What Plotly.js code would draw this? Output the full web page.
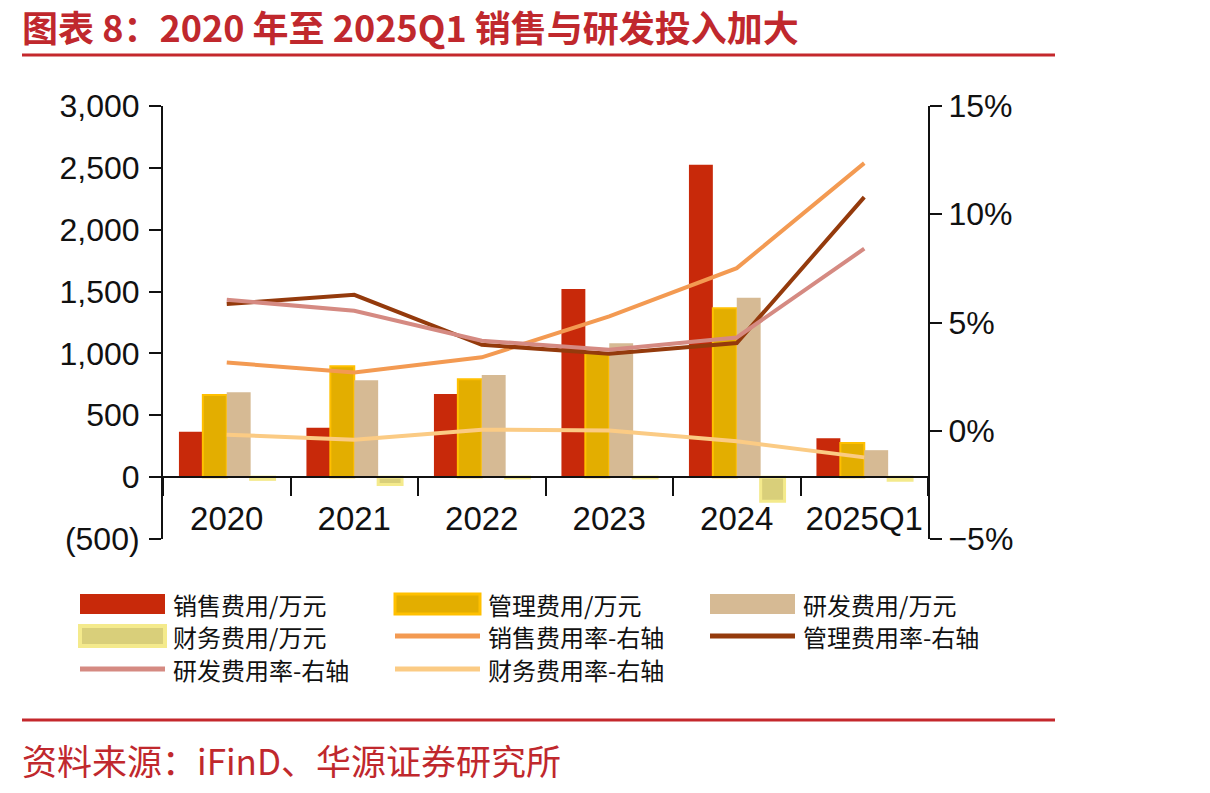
<!DOCTYPE html>
<html>
<head>
<meta charset="utf-8">
<script src="https://cdn.plot.ly/plotly-3.0.1.min.js"></script>
<style>
html,body{margin:0;padding:0;background:#fff;}
#chart{width:1210px;height:793px;}
</style>
</head>
<body>
<div id="chart"></div>
<script>
const categories = ["2020", "2021", "2022", "2023", "2024", "2025Q1"];
const salesExp = [366, 399, 673, 1520, 2525, 315];
const adminExp = [663, 897, 792, 1000, 1366, 275];
const rdExp = [687, 784, 825, 1083, 1450, 218];
const finExp = [-18, -60, -6, -6, -195, -25];
const salesRate = [3.15, 2.69, 3.39, 5.28, 7.51, 12.36];
const adminRate = [5.85, 6.28, 3.97, 3.56, 4.05, 10.79];
const rdRate = [6.05, 5.54, 4.16, 3.74, 4.31, 8.41];
const finRate = [-0.18, -0.42, 0.05, 0.01, -0.49, -1.23];
const leftTickVals = [-500, 0, 500, 1000, 1500, 2000, 2500, 3000];
const leftTickText = ["(500)", "0", "500", "1,000", "1,500", "2,000", "2,500", "3,000"];
const rightTickVals = [-5, 0, 5, 10, 15];
const rightTickText = ["\u22125%", "0%", "5%", "10%", "15%"];
const legendNames = ["销售费用/万元", "管理费用/万元", "研发费用/万元", "财务费用/万元",
  "销售费用率-右轴", "管理费用率-右轴", "研发费用率-右轴", "财务费用率-右轴"];

const C = {
  red: "#C8290A", yellow: "#E3AE00", yellowLine: "#FFC000", tan: "#D6BA94",
  fin: "#D9CF7A", finLine: "#F4EA8C", orange: "#F39A52", brown: "#943A0C",
  pink: "#D58A82", light: "#FBCB84"
};

const traces = [
  {type: "bar", name: legendNames[0], x: categories, y: salesExp, marker: {color: C.red}},
  {type: "bar", name: legendNames[1], x: categories, y: adminExp, marker: {color: C.yellow, line: {color: C.yellowLine, width: 2}}},
  {type: "bar", name: legendNames[2], x: categories, y: rdExp, marker: {color: C.tan}},
  {type: "bar", name: legendNames[3], x: categories, y: finExp, marker: {color: C.fin, line: {color: C.finLine, width: 3}}},
  {type: "scatter", mode: "lines", name: legendNames[4], x: categories, y: salesRate, yaxis: "y2", line: {color: C.orange, width: 4}},
  {type: "scatter", mode: "lines", name: legendNames[5], x: categories, y: adminRate, yaxis: "y2", line: {color: C.brown, width: 4}},
  {type: "scatter", mode: "lines", name: legendNames[6], x: categories, y: rdRate, yaxis: "y2", line: {color: C.pink, width: 4}},
  {type: "scatter", mode: "lines", name: legendNames[7], x: categories, y: finRate, yaxis: "y2", line: {color: C.light, width: 4}}
];

const W = 1210, H = 793;
const ML = 163, MR = 282, MT = 106, MB = 254;
const PW = W - ML - MR, PH = H - MT - MB;
const px = v => (v - ML) / PW, py = v => (H - MB - v) / PH;
const shapes = [
  {type: "line", xref: "paper", yref: "paper", x0: px(22), x1: px(1055), y0: py(55), y1: py(55), line: {color: "#C4282C", width: 3}},
  {type: "line", xref: "paper", yref: "paper", x0: px(22), x1: px(1055), y0: py(720), y1: py(720), line: {color: "#C4282C", width: 3}}
];
const annotations = [
  {xref: "paper", yref: "paper", x: px(20), y: py(26), xanchor: "left", yanchor: "middle", showarrow: false,
   text: "<b>图表 8：2020 年至 2025Q1 销售与研发投入加大</b>", font: {family: "Noto Sans CJK SC", size: 36, color: "#C0282D"}},
  {xref: "paper", yref: "paper", x: px(20), y: py(759), xanchor: "left", yanchor: "middle", showarrow: false,
   text: "资料来源：iFinD、华源证券研究所", font: {family: "Noto Sans CJK SC", size: 35, color: "#C0282D"}}
];
// Legend (custom, 3 columns)
const colX = [80, 395, 710];
const rowY = [604, 636, 669];
const legendStyles = [
  {kind: "rect", fill: C.red},
  {kind: "rect", fill: C.yellow, line: C.yellowLine, lw: 3},
  {kind: "rect", fill: C.tan},
  {kind: "rect", fill: C.fin, line: C.finLine, lw: 4},
  {kind: "line", color: C.orange},
  {kind: "line", color: C.brown},
  {kind: "line", color: C.pink},
  {kind: "line", color: C.light}
];
legendNames.forEach((name, i) => {
  const cx = colX[i % 3], cy = rowY[Math.floor(i / 3)];
  const s = legendStyles[i];
  if (s.kind === "rect") {
    shapes.push({type: "rect", xref: "paper", yref: "paper", x0: px(cx), x1: px(cx + 85), y0: py(cy - 10), y1: py(cy + 10),
      fillcolor: s.fill, line: {color: s.line || s.fill, width: s.lw || 0}});
  } else {
    shapes.push({type: "line", xref: "paper", yref: "paper", x0: px(cx), x1: px(cx + 85), y0: py(cy), y1: py(cy),
      line: {color: s.color, width: 5}});
  }
  annotations.push({xref: "paper", yref: "paper", x: px(cx + 91), y: py(cy), xanchor: "left", yanchor: "middle", showarrow: false,
    text: name, font: {family: "Noto Sans CJK SC", size: 24, color: "#111"}});
});

const fam = "Liberation Sans, Arial, sans-serif";
const layout = {
  width: W, height: H,
  margin: {l: ML, r: MR, t: MT, b: MB, pad: 0},
  paper_bgcolor: "#fff", plot_bgcolor: "#fff",
  showlegend: false,
  barmode: "group", bargap: 0.25, bargroupgap: 0,
  xaxis: {
    type: "category", anchor: "free", position: 500 / 3500,
    showline: true, linecolor: "#111", linewidth: 2,
    ticks: "outside", tickson: "boundaries", ticklen: 18, tickwidth: 2, tickcolor: "#111",
    showgrid: false, zeroline: false, tickfont: {family: fam, size: 33, color: "#111"}, ticklabelstandoff: 12
  },
  yaxis: {
    range: [-500, 3000], tickvals: leftTickVals, ticktext: leftTickText,
    showline: true, linecolor: "#111", linewidth: 2,
    ticks: "outside", ticklen: 12, tickwidth: 2, tickcolor: "#111",
    showgrid: false, zeroline: false, tickfont: {family: fam, size: 32, color: "#111"}, ticklabelstandoff: 3
  },
  yaxis2: {
    range: [-5, 15], tickvals: rightTickVals, ticktext: rightTickText,
    overlaying: "y", side: "right",
    showline: true, linecolor: "#111", linewidth: 2,
    ticks: "outside", ticklen: 12, tickwidth: 2, tickcolor: "#111",
    showgrid: false, zeroline: false, tickfont: {family: fam, size: 32, color: "#111"}
  },
  shapes: shapes,
  annotations: annotations
};

Plotly.newPlot("chart", traces, layout, {staticPlot: true, displayModeBar: false});
</script>
</body>
</html>
